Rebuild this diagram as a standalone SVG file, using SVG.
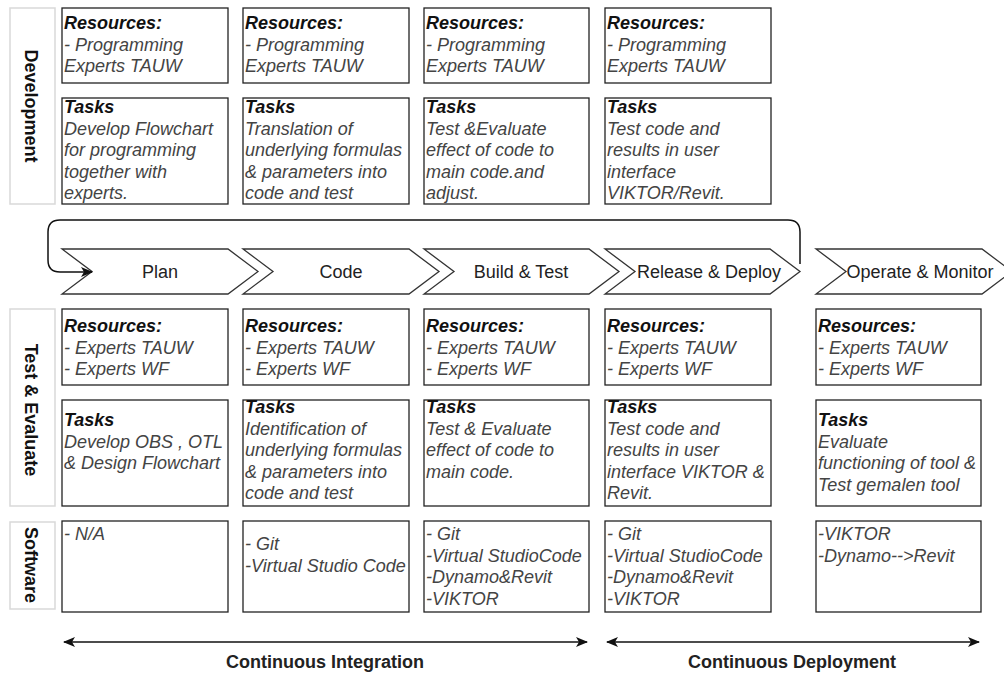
<svg xmlns="http://www.w3.org/2000/svg" width="1004" height="675" viewBox="0 0 1004 675">
  <defs>
    <style>
      .box { fill: #fff; stroke: #222; stroke-width: 1.3; }
      .lab { fill: #fff; stroke: #d9d9d9; stroke-width: 1.5; }
      .hd { font: italic bold 18px "Liberation Sans", Arial, sans-serif; fill: #111; }
      .bd { font: italic 18px "Liberation Sans", Arial, sans-serif; fill: #444; }
      .vt { font: bold 18px "Liberation Sans", Arial, sans-serif; fill: #111; text-anchor: middle; }
      .step { fill: #fff; stroke: #333; stroke-width: 1.3; }
      .st { font: 18px "Liberation Sans", Arial, sans-serif; fill: #222; text-anchor: middle; }
      .ft { font: bold 18px "Liberation Sans", Arial, sans-serif; fill: #222; text-anchor: middle; }
      .wire { fill: none; stroke: #111; stroke-width: 1.5; }
    </style>
    <marker id="head" viewBox="0 0 12 10" refX="11" refY="5" markerWidth="12" markerHeight="10" markerUnits="userSpaceOnUse" orient="auto-start-reverse">
      <path d="M0,0 L12,5 L0,10 L3,5 Z" fill="#111"/>
    </marker>
  </defs>
  <rect width="1004" height="675" fill="#fff"/>

  <!-- row labels -->
  <g id="label-development">
    <rect class="lab" x="10" y="8" width="45" height="196"/>
    <text class="vt" transform="translate(25 106) rotate(90)">Development</text>
  </g>
  <g id="label-test-evaluate">
    <rect class="lab" x="10" y="309" width="45" height="197"/>
    <text class="vt" transform="translate(25 410) rotate(90)">Test &amp; Evaluate</text>
  </g>
  <g id="label-software">
    <rect class="lab" x="10" y="522" width="45" height="87"/>
    <text class="vt" transform="translate(25 565) rotate(90)">Software</text>
  </g>

  <!-- development: resources -->
  <g id="dev-res-1">
    <rect class="box" x="62" y="8" width="166" height="75"/>
    <text x="64" y="29" class="hd">Resources:</text>
    <text class="bd"><tspan x="64" y="50.5">- Programming</tspan><tspan x="64" y="72">Experts TAUW</tspan></text>
  </g>
  <g id="dev-res-2">
    <rect class="box" x="243" y="8" width="166" height="75"/>
    <text x="245" y="29" class="hd">Resources:</text>
    <text class="bd"><tspan x="245" y="50.5">- Programming</tspan><tspan x="245" y="72">Experts TAUW</tspan></text>
  </g>
  <g id="dev-res-3">
    <rect class="box" x="424" y="8" width="165" height="75"/>
    <text x="426" y="29" class="hd">Resources:</text>
    <text class="bd"><tspan x="426" y="50.5">- Programming</tspan><tspan x="426" y="72">Experts TAUW</tspan></text>
  </g>
  <g id="dev-res-4">
    <rect class="box" x="605" y="8" width="166" height="75"/>
    <text x="607" y="29" class="hd">Resources:</text>
    <text class="bd"><tspan x="607" y="50.5">- Programming</tspan><tspan x="607" y="72">Experts TAUW</tspan></text>
  </g>

  <!-- development: tasks -->
  <g id="dev-task-1">
    <rect class="box" x="62" y="98" width="166" height="106"/>
    <text x="64" y="113" class="hd">Tasks</text>
    <text class="bd"><tspan x="64" y="134.5">Develop Flowchart</tspan><tspan x="64" y="156">for programming</tspan><tspan x="64" y="177.5">together with</tspan><tspan x="64" y="199">experts.</tspan></text>
  </g>
  <g id="dev-task-2">
    <rect class="box" x="243" y="98" width="166" height="106"/>
    <text x="245" y="113" class="hd">Tasks</text>
    <text class="bd"><tspan x="245" y="134.5">Translation of</tspan><tspan x="245" y="156">underlying formulas</tspan><tspan x="245" y="177.5">&amp; parameters into</tspan><tspan x="245" y="199">code and test</tspan></text>
  </g>
  <g id="dev-task-3">
    <rect class="box" x="424" y="98" width="165" height="106"/>
    <text x="426" y="113" class="hd">Tasks</text>
    <text class="bd"><tspan x="426" y="134.5">Test &amp;Evaluate</tspan><tspan x="426" y="156">effect of code to</tspan><tspan x="426" y="177.5">main code.and</tspan><tspan x="426" y="199">adjust.</tspan></text>
  </g>
  <g id="dev-task-4">
    <rect class="box" x="605" y="98" width="166" height="106"/>
    <text x="607" y="113" class="hd">Tasks</text>
    <text class="bd"><tspan x="607" y="134.5">Test code and</tspan><tspan x="607" y="156">results in user</tspan><tspan x="607" y="177.5">interface</tspan><tspan x="607" y="199">VIKTOR/Revit.</tspan></text>
  </g>

  <!-- pipeline stages -->
  <g id="stage-plan">
    <polygon class="step" points="62,249 228,249 258,271.5 228,294 62,294 92,271.5"/>
    <text class="st" x="160" y="278">Plan</text>
  </g>
  <g id="stage-code">
    <polygon class="step" points="243,249 409,249 439,271.5 409,294 243,294 273,271.5"/>
    <text class="st" x="341" y="278">Code</text>
  </g>
  <g id="stage-build">
    <polygon class="step" points="424,249 589,249 619,271.5 589,294 424,294 454,271.5"/>
    <text class="st" x="521" y="278">Build &amp; Test</text>
  </g>
  <g id="stage-release">
    <polygon class="step" points="605,249 770,249 800,271.5 770,294 605,294 635,271.5"/>
    <text class="st" x="709" y="278">Release &amp; Deploy</text>
  </g>
  <g id="stage-operate">
    <polygon class="step" points="816,249 982,249 1012,271.5 982,294 816,294 846,271.5"/>
    <text class="st" x="920" y="278">Operate &amp; Monitor</text>
  </g>

  <!-- test & evaluate: resources -->
  <g id="te-res-1">
    <rect class="box" x="62" y="309" width="166" height="76"/>
    <text x="64" y="332" class="hd">Resources:</text>
    <text class="bd"><tspan x="64" y="353.5">- Experts TAUW</tspan><tspan x="64" y="375">- Experts WF</tspan></text>
  </g>
  <g id="te-res-2">
    <rect class="box" x="243" y="309" width="166" height="76"/>
    <text x="245" y="332" class="hd">Resources:</text>
    <text class="bd"><tspan x="245" y="353.5">- Experts TAUW</tspan><tspan x="245" y="375">- Experts WF</tspan></text>
  </g>
  <g id="te-res-3">
    <rect class="box" x="424" y="309" width="165" height="76"/>
    <text x="426" y="332" class="hd">Resources:</text>
    <text class="bd"><tspan x="426" y="353.5">- Experts TAUW</tspan><tspan x="426" y="375">- Experts WF</tspan></text>
  </g>
  <g id="te-res-4">
    <rect class="box" x="605" y="309" width="166" height="76"/>
    <text x="607" y="332" class="hd">Resources:</text>
    <text class="bd"><tspan x="607" y="353.5">- Experts TAUW</tspan><tspan x="607" y="375">- Experts WF</tspan></text>
  </g>
  <g id="te-res-5">
    <rect class="box" x="816" y="309" width="165" height="76"/>
    <text x="818" y="332" class="hd">Resources:</text>
    <text class="bd"><tspan x="818" y="353.5">- Experts TAUW</tspan><tspan x="818" y="375">- Experts WF</tspan></text>
  </g>

  <!-- test & evaluate: tasks -->
  <g id="te-task-1">
    <rect class="box" x="62" y="400" width="166" height="106"/>
    <text x="64" y="426" class="hd">Tasks</text>
    <text class="bd"><tspan x="64" y="447.5">Develop OBS , OTL</tspan><tspan x="64" y="469">&amp; Design Flowchart</tspan></text>
  </g>
  <g id="te-task-2">
    <rect class="box" x="243" y="400" width="166" height="106"/>
    <text x="245" y="413" class="hd">Tasks</text>
    <text class="bd"><tspan x="245" y="434.5">Identification of</tspan><tspan x="245" y="456">underlying formulas</tspan><tspan x="245" y="477.5">&amp; parameters into</tspan><tspan x="245" y="499">code and test</tspan></text>
  </g>
  <g id="te-task-3">
    <rect class="box" x="424" y="400" width="165" height="106"/>
    <text x="426" y="413" class="hd">Tasks</text>
    <text class="bd"><tspan x="426" y="434.5">Test &amp; Evaluate</tspan><tspan x="426" y="456">effect of code to</tspan><tspan x="426" y="477.5">main code.</tspan></text>
  </g>
  <g id="te-task-4">
    <rect class="box" x="605" y="400" width="166" height="106"/>
    <text x="607" y="413" class="hd">Tasks</text>
    <text class="bd"><tspan x="607" y="434.5">Test code and</tspan><tspan x="607" y="456">results in user</tspan><tspan x="607" y="477.5">interface VIKTOR &amp;</tspan><tspan x="607" y="499">Revit.</tspan></text>
  </g>
  <g id="te-task-5">
    <rect class="box" x="816" y="400" width="165" height="106"/>
    <text x="818" y="426" class="hd">Tasks</text>
    <text class="bd"><tspan x="818" y="447.5">Evaluate</tspan><tspan x="818" y="469">functioning of tool &amp;</tspan><tspan x="818" y="490.5">Test gemalen tool</tspan></text>
  </g>

  <!-- software -->
  <g id="sw-1">
    <rect class="box" x="62" y="521" width="166" height="91"/>
    <text class="bd" x="64" y="540">- N/A</text>
  </g>
  <g id="sw-2">
    <rect class="box" x="243" y="521" width="166" height="91"/>
    <text class="bd"><tspan x="245" y="550">- Git</tspan><tspan x="245" y="571.5">-Virtual Studio Code</tspan></text>
  </g>
  <g id="sw-3">
    <rect class="box" x="424" y="521" width="165" height="91"/>
    <text class="bd"><tspan x="426" y="540">- Git</tspan><tspan x="426" y="561.5">-Virtual StudioCode</tspan><tspan x="426" y="583">-Dynamo&amp;Revit</tspan><tspan x="426" y="604.5">-VIKTOR</tspan></text>
  </g>
  <g id="sw-4">
    <rect class="box" x="605" y="521" width="166" height="91"/>
    <text class="bd"><tspan x="607" y="540">- Git</tspan><tspan x="607" y="561.5">-Virtual StudioCode</tspan><tspan x="607" y="583">-Dynamo&amp;Revit</tspan><tspan x="607" y="604.5">-VIKTOR</tspan></text>
  </g>
  <g id="sw-5">
    <rect class="box" x="816" y="521" width="165" height="91"/>
    <text class="bd"><tspan x="818" y="540">-VIKTOR</tspan><tspan x="818" y="561.5">-Dynamo--&gt;Revit</tspan></text>
  </g>

  <!-- connectors -->
  <g id="connectors">
    <path class="wire" d="M800,264 L800,232 Q800,220 788,220 L60,220 Q48,220 48,232 L48,260 Q48,272 60,272 L92,272" marker-end="url(#head)"/>
    <path class="wire" d="M64,642 L587,642" marker-start="url(#head)" marker-end="url(#head)"/>
    <path class="wire" d="M607,642 L979,642" marker-start="url(#head)" marker-end="url(#head)"/>
  </g>

  <!-- phase captions -->
  <text class="ft" x="325" y="668">Continuous Integration</text>
  <text class="ft" x="792" y="668">Continuous Deployment</text>
</svg>
